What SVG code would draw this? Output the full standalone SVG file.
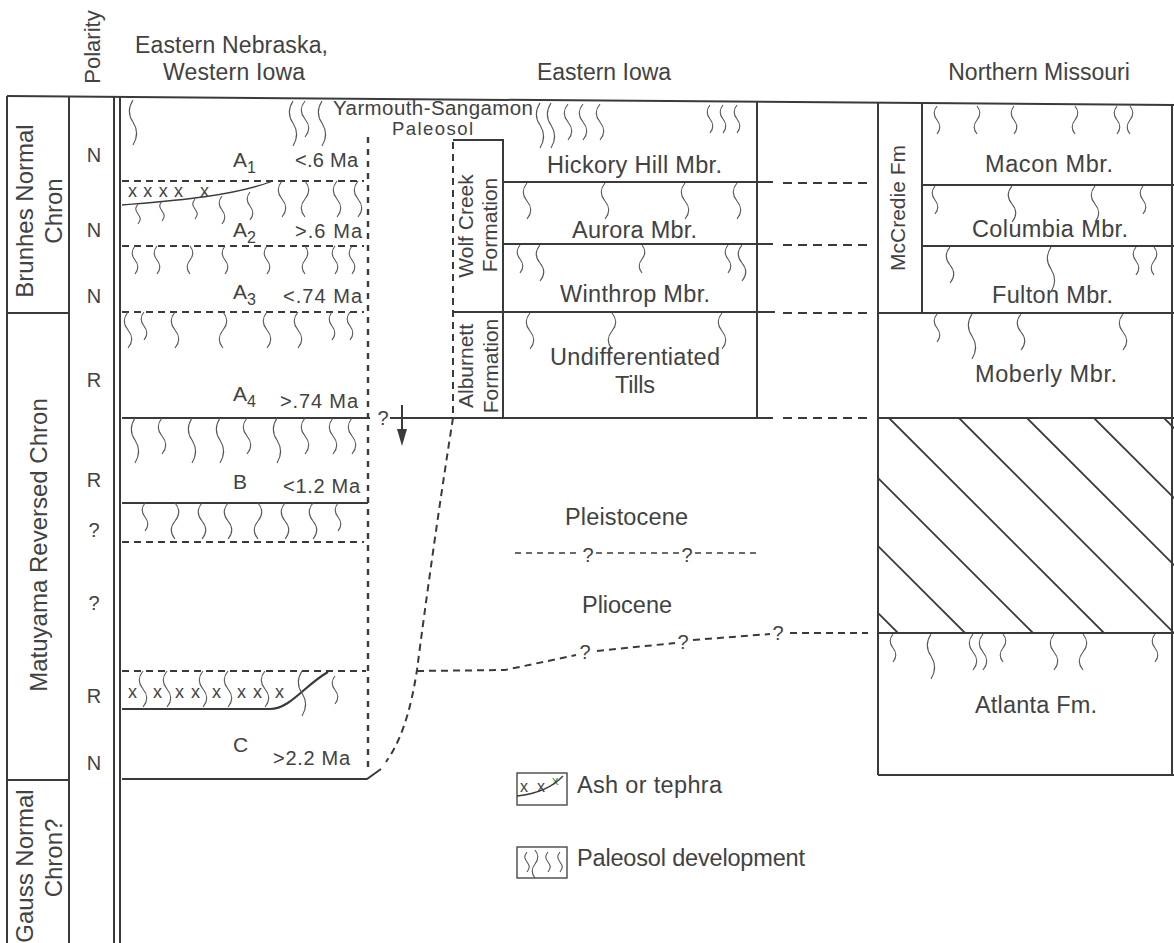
<svg xmlns="http://www.w3.org/2000/svg" xmlns:xlink="http://www.w3.org/1999/xlink" width="1174" height="943" viewBox="0 0 1174 943">
<style>
text{font-family:"Liberation Sans",Arial,Helvetica,sans-serif;fill:#424242}
.hd{font-size:23px}
.mb{font-size:23.5px}
.ch{font-size:24px;text-anchor:middle}
.fm{font-size:21px;text-anchor:middle}
.pl{font-size:20px;text-anchor:middle}
.ma{font-size:20px}
.al{font-size:21px}
.sub{font-size:16px}
.q{font-size:20px;text-anchor:middle}
.xx{font-size:18px}
.ln{stroke:#3a3a3a;stroke-width:2;fill:none}
.thin{stroke:#3a3a3a;stroke-width:1.3;fill:none}
.ds{stroke:#3a3a3a;stroke-width:2;fill:none;stroke-dasharray:7 5}
.dv{stroke:#3a3a3a;stroke-width:2.4;fill:none;stroke-dasharray:6 6}
.soil{stroke:#555;stroke-width:1.1;fill:none}
.hatch{stroke:#3a3a3a;stroke-width:1.8}
</style>
<defs>
<path id="q0" d="M0,0 c-3,4 -3,6 0,10 c3,4 3,6 0,10"/>
<path id="q1" d="M0,0 c-4,5 -4,9 0,14 c4,5 4,9 0,14"/>
<path id="q2" d="M0,0 c-5,6 -5,12 0,18 c5,6 5,12 0,18"/>
<path id="q3" d="M0,0 c-5,8 -5,15 0,22 c5,8 5,15 0,23"/>
<path id="q4" d="M0,0 c5,6 5,12 0,18 c-5,6 -5,12 0,18"/>
<path id="q5" d="M0,0 c4,5 4,9 0,14 c-4,5 -4,9 0,14"/>
<clipPath id="hclip"><rect x="878" y="418" width="296" height="215"/></clipPath>
</defs>
<rect x="0" y="0" width="1174" height="943" fill="#ffffff"/>

<g id="headers">
<text transform="translate(100,47) rotate(-90)" text-anchor="middle" style="font-size:22px">Polarity</text>
<text class="hd" x="135" y="53" textLength="193" lengthAdjust="spacing">Eastern Nebraska,</text>
<text class="hd" x="163" y="80" textLength="142" lengthAdjust="spacing">Western Iowa</text>
<text class="hd" x="604" y="80" text-anchor="middle">Eastern Iowa</text>
<text class="hd" x="1039" y="80" text-anchor="middle">Northern Missouri</text>
</g>

<g id="frame">
<path class="ln" d="M7,96 L1174,105"/>
<path class="ln" d="M7,96 V943 M69,96 V943 M114,96 V943 M120,96 V943"/>
</g>

<g id="chron-column">
<path class="ln" d="M7,313 H69 M7,780 H69"/>
<text class="ch" transform="translate(33,211) rotate(-90)">Brunhes Normal</text>
<text class="ch" transform="translate(62,211) rotate(-90)">Chron</text>
<text class="ch" transform="translate(47,545) rotate(-90)">Matuyama Reversed Chron</text>
<text class="ch" transform="translate(33,866) rotate(-90)">Gauss Normal</text>
<text class="ch" transform="translate(62,858) rotate(-90)">Chron?</text>
</g>

<g id="polarity-column">
<text class="pl" x="94" y="162">N</text>
<text class="pl" x="94" y="237">N</text>
<text class="pl" x="94" y="303">N</text>
<text class="pl" x="94" y="387">R</text>
<text class="pl" x="94" y="487">R</text>
<text class="pl" x="94" y="537">?</text>
<text class="pl" x="94" y="610">?</text>
<text class="pl" x="94" y="703">R</text>
<text class="pl" x="94" y="770">N</text>
</g>

<g id="nebraska-western-iowa">
<path class="ds" d="M122,181 H364 M122,246 H364 M122,312 H364 M122,542 H364 M122,671 H366"/>
<path class="ln" d="M122,418 H370 M122,503 H368 M122,779 H367 L381,769"/>
<path class="thin" d="M122,205 C170,201 230,197 273,181"/>
<path class="ln" style="stroke-width:2.2" d="M122,709 H270 C290,709 305,685 328,672"/>
<path class="dv" d="M368,137 V769"/>
<text class="xx" x="128" y="197" textLength="55" lengthAdjust="spacing">xxxx</text>
<text class="xx" x="200" y="197">x</text>
<text class="xx" x="128" y="698">x</text>
<text class="xx" x="153" y="698">x</text>
<text class="xx" x="175" y="698" textLength="25" lengthAdjust="spacing">xx</text>
<text class="xx" x="212" y="698">x</text>
<text class="xx" x="237" y="698" textLength="25" lengthAdjust="spacing">xx</text>
<text class="xx" x="275" y="698">x</text>
<text class="al" x="233" y="167">A<tspan class="sub" dy="6">1</tspan></text>
<text class="al" x="233" y="237">A<tspan class="sub" dy="6">2</tspan></text>
<text class="al" x="233" y="299">A<tspan class="sub" dy="6">3</tspan></text>
<text class="al" x="233" y="401">A<tspan class="sub" dy="6">4</tspan></text>
<text class="al" x="233" y="489">B</text>
<text class="al" x="233" y="752">C</text>
<text class="ma" x="295" y="167" textLength="63" lengthAdjust="spacing">&lt;.6 Ma</text>
<text class="ma" x="295" y="238" textLength="67" lengthAdjust="spacing">&gt;.6 Ma</text>
<text class="ma" x="283" y="303" textLength="79" lengthAdjust="spacing">&lt;.74 Ma</text>
<text class="ma" x="280" y="408" textLength="78" lengthAdjust="spacing">&gt;.74 Ma</text>
<text class="ma" x="283" y="493" textLength="77" lengthAdjust="spacing">&lt;1.2 Ma</text>
<text class="ma" x="273" y="765" textLength="77" lengthAdjust="spacing">&gt;2.2 Ma</text>
<text class="q" x="383" y="425">?</text>
<text x="333" y="115" style="font-size:20.5px" textLength="200" lengthAdjust="spacing">Yarmouth-Sangamon</text>
<text x="392" y="135" style="font-size:18.5px" textLength="81" lengthAdjust="spacing">Paleosol</text>
<g class="soil">
<use xlink:href="#q3" x="133" y="100"/><use xlink:href="#q3" x="293" y="101"/><use xlink:href="#q2" x="305" y="101"/><use xlink:href="#q3" x="322" y="101"/>
<use xlink:href="#q0" x="138" y="204"/><use xlink:href="#q0" x="162" y="201"/><use xlink:href="#q0" x="195" y="199"/><use xlink:href="#q1" x="222" y="196"/><use xlink:href="#q1" x="250" y="192"/>
<use xlink:href="#q2" x="282" y="181"/><use xlink:href="#q4" x="305" y="181"/><use xlink:href="#q2" x="337" y="181"/><use xlink:href="#q2" x="358" y="181"/>
<use xlink:href="#q1" x="135" y="246"/><use xlink:href="#q1" x="157" y="246"/><use xlink:href="#q5" x="190" y="246"/><use xlink:href="#q1" x="225" y="246"/><use xlink:href="#q1" x="267" y="246"/><use xlink:href="#q5" x="305" y="246"/><use xlink:href="#q1" x="335" y="246"/><use xlink:href="#q1" x="352" y="246"/>
<use xlink:href="#q2" x="128" y="312"/><use xlink:href="#q1" x="144" y="312"/><use xlink:href="#q2" x="175" y="312"/><use xlink:href="#q4" x="223" y="312"/><use xlink:href="#q2" x="267" y="312"/><use xlink:href="#q2" x="298" y="312"/><use xlink:href="#q1" x="332" y="312"/><use xlink:href="#q1" x="350" y="312"/>
<use xlink:href="#q3" x="135" y="418"/><use xlink:href="#q2" x="162" y="418"/><use xlink:href="#q3" x="192" y="418"/><use xlink:href="#q3" x="220" y="418"/><use xlink:href="#q2" x="247" y="418"/><use xlink:href="#q3" x="277" y="418"/><use xlink:href="#q2" x="305" y="418"/><use xlink:href="#q2" x="333" y="418"/><use xlink:href="#q2" x="352" y="418"/>
<use xlink:href="#q1" x="145" y="503"/><use xlink:href="#q4" x="175" y="503"/><use xlink:href="#q2" x="202" y="503"/><use xlink:href="#q2" x="228" y="503"/><use xlink:href="#q4" x="258" y="503"/><use xlink:href="#q2" x="285" y="503"/><use xlink:href="#q2" x="313" y="503"/><use xlink:href="#q1" x="338" y="503"/>
<use xlink:href="#q2" x="143" y="671"/><use xlink:href="#q2" x="167" y="671"/><use xlink:href="#q2" x="203" y="671"/><use xlink:href="#q2" x="228" y="671"/><use xlink:href="#q2" x="265" y="671"/><use xlink:href="#q3" x="302" y="671"/><use xlink:href="#q1" x="335" y="676"/>
</g>
</g>

<g id="eastern-iowa">
<path class="ln" d="M453,140 H503 V418 M757,102 V418 M503,182 H773 M503,244 H773 M453,312 H775 M390,418 H773"/>
<path class="ds" d="M453,142 V418"/>
<text class="fm" transform="translate(473,226) rotate(-90)">Wolf Creek</text>
<text class="fm" transform="translate(497,225) rotate(-90)">Formation</text>
<text class="fm" transform="translate(473,366) rotate(-90)">Alburnett</text>
<text class="fm" transform="translate(498,366) rotate(-90)">Formation</text>
<text class="mb" x="547" y="173" textLength="175" lengthAdjust="spacing">Hickory Hill Mbr.</text>
<text class="mb" x="572" y="238" textLength="125" lengthAdjust="spacing">Aurora Mbr.</text>
<text class="mb" x="560" y="302" textLength="150" lengthAdjust="spacing">Winthrop Mbr.</text>
<text class="mb" x="550" y="365" textLength="170" lengthAdjust="spacing">Undifferentiated</text>
<text class="mb" x="615" y="393" textLength="40" lengthAdjust="spacing">Tills</text>
<text class="mb" x="565" y="525" textLength="123" lengthAdjust="spacing">Pleistocene</text>
<text class="mb" x="582" y="613" textLength="90" lengthAdjust="spacing">Pliocene</text>
<g class="soil">
<use xlink:href="#q3" x="540" y="103"/><use xlink:href="#q3" x="551" y="103"/><use xlink:href="#q2" x="568" y="104"/><use xlink:href="#q2" x="583" y="104"/><use xlink:href="#q2" x="600" y="104"/><use xlink:href="#q1" x="710" y="105"/><use xlink:href="#q1" x="723" y="105"/><use xlink:href="#q1" x="737" y="105"/>
<use xlink:href="#q2" x="527" y="183"/><use xlink:href="#q2" x="605" y="183"/><use xlink:href="#q2" x="685" y="183"/><use xlink:href="#q2" x="737" y="183"/>
<use xlink:href="#q1" x="520" y="245"/><use xlink:href="#q2" x="540" y="245"/><use xlink:href="#q5" x="642" y="245"/><use xlink:href="#q1" x="728" y="245"/><use xlink:href="#q2" x="742" y="245"/>
<use xlink:href="#q2" x="530" y="313"/><use xlink:href="#q4" x="612" y="313"/><use xlink:href="#q2" x="722" y="313"/>
</g>
</g>

<g id="northern-missouri">
<path class="ln" d="M878,103 V775 M922,103 V313 M922,185 H1174 M922,246 H1174 M878,313 H1174 M878,418 H1174 M878,633 H1174 M878,775 H1174 M1172,104 V775"/>
<g clip-path="url(#hclip)" class="hatch">
<line x1="683" y1="418" x2="898" y2="633"/>
<line x1="750" y1="418" x2="965" y2="633"/>
<line x1="818" y1="418" x2="1033" y2="633"/>
<line x1="889" y1="418" x2="1104" y2="633"/>
<line x1="959" y1="418" x2="1174" y2="633"/>
<line x1="1027" y1="418" x2="1242" y2="633"/>
<line x1="1094" y1="418" x2="1309" y2="633"/>
<line x1="1164" y1="418" x2="1379" y2="633"/>
</g>
<text class="fm" transform="translate(905,208) rotate(-90)">McCredie Fm</text>
<text class="mb" x="985" y="172" textLength="128" lengthAdjust="spacing">Macon Mbr.</text>
<text class="mb" x="972" y="237" textLength="156" lengthAdjust="spacing">Columbia Mbr.</text>
<text class="mb" x="992" y="303" textLength="121" lengthAdjust="spacing">Fulton Mbr.</text>
<text class="mb" x="975" y="382" textLength="142" lengthAdjust="spacing">Moberly Mbr.</text>
<text class="mb" x="975" y="713" textLength="122" lengthAdjust="spacing">Atlanta Fm.</text>
<g class="soil">
<use xlink:href="#q1" x="937" y="106"/><use xlink:href="#q5" x="977" y="106"/><use xlink:href="#q1" x="1014" y="106"/><use xlink:href="#q5" x="1075" y="106"/><use xlink:href="#q1" x="1117" y="106"/><use xlink:href="#q5" x="1130" y="106"/>
<use xlink:href="#q1" x="935" y="186"/><use xlink:href="#q2" x="1012" y="186"/><use xlink:href="#q2" x="1095" y="186"/><use xlink:href="#q1" x="1143" y="186"/>
<use xlink:href="#q2" x="950" y="247"/><use xlink:href="#q3" x="1051" y="247"/><use xlink:href="#q1" x="1136" y="247"/><use xlink:href="#q5" x="1154" y="247"/>
<use xlink:href="#q1" x="937" y="314"/><use xlink:href="#q3" x="972" y="314"/><use xlink:href="#q2" x="1021" y="314"/><use xlink:href="#q2" x="1123" y="314"/>
<use xlink:href="#q1" x="893" y="634"/><use xlink:href="#q3" x="931" y="634"/><use xlink:href="#q2" x="973" y="634"/><use xlink:href="#q2" x="983" y="634"/><use xlink:href="#q5" x="1003" y="634"/><use xlink:href="#q2" x="1054" y="634"/><use xlink:href="#q4" x="1083" y="634"/><use xlink:href="#q1" x="1155" y="634"/>
</g>
</g>

<g id="connectors">
<path class="ds" d="M783,183 H868 M783,245 H868 M783,313 H868 M783,418 H868" style="stroke-dasharray:9 6"/>
<path class="ds" d="M453,418 C440,500 426,600 417,670 C410,715 400,742 386,762"/>
<path class="ds" d="M417,671 L505,670 L576,655 M597,651 L675,643 M693,640 L770,634 M790,633 L868,633"/>
<text class="q" x="585" y="659">?</text>
<text class="q" x="683" y="649">?</text>
<text class="q" x="778" y="640">?</text>
<path class="ds" style="stroke-width:1.6;stroke-dasharray:6 5" d="M515,553 H581 M596,553 H680 M695,553 H757"/>
<text class="q" x="588" y="562">?</text>
<text class="q" x="687" y="562">?</text>
<line class="ln" x1="402" y1="405" x2="402" y2="432"/>
<polygon points="397,429 407,429 402,446" fill="#3a3a3a"/>
</g>

<g id="legend">
<rect class="thin" x="517" y="773" width="50" height="32"/>
<text x="520" y="792" style="font-size:16px" textLength="25" lengthAdjust="spacing">xx</text>
<text x="552" y="785" style="font-size:13px;fill:#3c8c3c">x</text>
<path class="thin" d="M517,796 C535,794 552,788 563,776"/>
<text class="mb" x="577" y="793" textLength="145" lengthAdjust="spacing">Ash or tephra</text>
<rect class="thin" x="517" y="847" width="50" height="31"/>
<g class="soil">
<use xlink:href="#q0" x="527" y="852"/><use xlink:href="#q5" x="535" y="850"/><use xlink:href="#q0" x="548" y="852"/><use xlink:href="#q0" x="560" y="852"/>
</g>
<text class="mb" x="577" y="866" textLength="228" lengthAdjust="spacing">Paleosol development</text>
</g>
</svg>
